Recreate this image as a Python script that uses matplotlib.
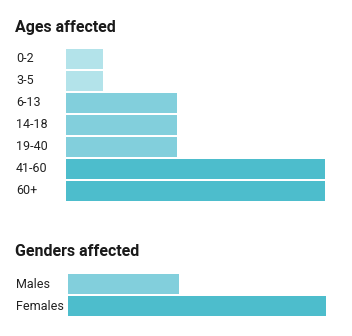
import matplotlib
matplotlib.use("Agg")
import matplotlib.pyplot as plt
from matplotlib.transforms import blended_transform_factory

age_labels = ["0-2", "3-5", "6-13", "14-18", "19-40", "41-60", "60+"]
age_values = [1, 1, 3, 3, 3, 7, 7]
gender_labels = ["Males", "Females"]
gender_values = [3, 7]

COL = {1: "#b3e3ea", 3: "#82cfdc", 7: "#4dbdcc"}

W, H = 352, 336
fig = plt.figure(figsize=(W / 100, H / 100), dpi=100)
plt.rcParams['font.family'] = ['Roboto', 'DejaVu Sans']

h = 20 / 22

def make_axes(x0, x1, y0, y1):
    return fig.add_axes([x0 / W, 1 - y1 / H, (x1 - x0) / W, (y1 - y0) / H])

def draw(ax, labels, values, xmax):
    n = len(labels)
    ax.barh(range(n), values, height=h, color=[COL[v] for v in values], linewidth=0)
    ax.set_xlim(0, xmax)
    ax.set_ylim(n - 1 + h / 2, -h / 2)
    ax.axis('off')
    tr = blended_transform_factory(fig.transFigure, ax.transData)
    for i, lab in enumerate(labels):
        ax.text(16 / W, i, lab, transform=tr, ha='left', va='center',
                fontsize=9, color='#222222')

ax1 = make_axes(66, 325, 49, 201)
draw(ax1, age_labels, age_values, 7)
ax2 = make_axes(68, 326, 274, 316)
draw(ax2, gender_labels, gender_values, 7)

fig.text(15 / W, 1 - 32 / H, "Ages affected", fontsize=11.5, fontweight='bold',
         color='#1a1a1a', ha='left', va='baseline')
fig.text(15 / W, 1 - 256.5 / H, "Genders affected", fontsize=11.5, fontweight='bold',
         color='#1a1a1a', ha='left', va='baseline')

fig.savefig("out.png", dpi=100, facecolor='white')
